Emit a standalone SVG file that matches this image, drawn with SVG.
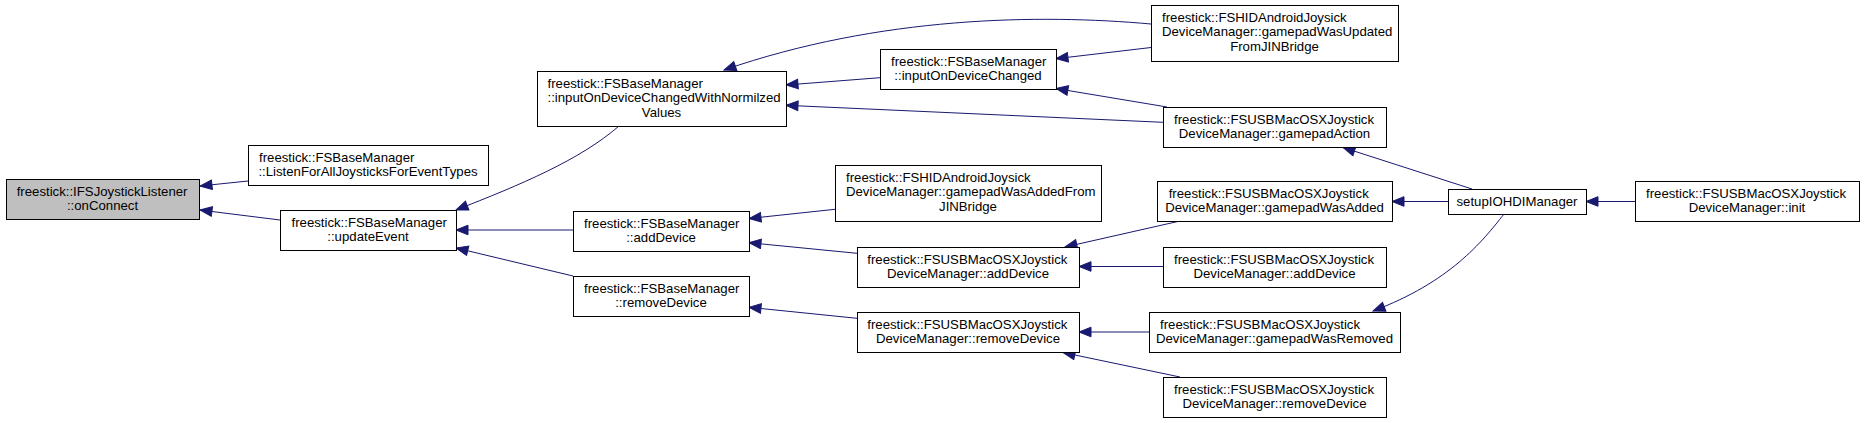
<svg xmlns="http://www.w3.org/2000/svg" width="1864" height="423" viewBox="0 0 1864 423">
<style>
rect.n{fill:#fff;stroke:#000;stroke-width:1}
rect.root{fill:#bfbfbf}
text{font-family:"Liberation Sans",Arial,sans-serif;font-size:13.2px;fill:#000}
text.c{text-anchor:middle}
.e path{fill:none;stroke:#191970;stroke-width:1;marker-end:url(#ah)}
</style>
<defs>
<marker id="ah" markerUnits="userSpaceOnUse" markerWidth="15" markerHeight="13" refX="13" refY="5.5" orient="auto">
<path d="M1,0.7 L13,5.5 L1,10.3 Z" fill="#191970" stroke="#191970" stroke-width="1"/>
</marker>
</defs>
<rect width="1864" height="423" fill="#fff"/>
<g class="e" id="edges">
<path d="M248,181 L200,186"/>
<path d="M280,220 L200,210"/>
<path d="M619,126 C580,160 520,185 456,210"/>
<path d="M573,230 L456,230"/>
<path d="M573,276 L456,248"/>
<path d="M880,77.7 L786,85"/>
<path d="M1151,24 C1040,14 880,16 724,70"/>
<path d="M1151,47.5 L1056,58.7"/>
<path d="M1167,107 L1056,88.5"/>
<path d="M1163,122.3 L786,105.3"/>
<path d="M835,209.3 L749,218.5"/>
<path d="M857,253.3 L749,242.7"/>
<path d="M857,318.3 L749,307.3"/>
<path d="M1180,221 L1065,247"/>
<path d="M1163,266.5 L1079,266.5"/>
<path d="M1149,332 L1079,332"/>
<path d="M1180,377 L1063,352.5"/>
<path d="M1472,189 L1343,147.5"/>
<path d="M1448,201.5 L1392,201.5"/>
<path d="M1504,214 C1482,242 1450,282 1373,311"/>
<path d="M1635,201.5 L1586,201.5"/>
</g>
<g id="n0"><rect class="n root" x="6.5" y="179.5" width="193" height="40"/><text x="16.7" y="195.5">freestick::IFSJoystickListener</text><text class="c" x="102.5" y="209.5">::onConnect</text></g>
<g id="n1"><rect class="n" x="248.5" y="145.5" width="240" height="40"/><text x="259" y="161.5">freestick::FSBaseManager</text><text class="c" x="368" y="175.5">::ListenForAllJoysticksForEventTypes</text></g>
<g id="n2"><rect class="n" x="280.5" y="210.5" width="176" height="40"/><text x="291.5" y="226.5">freestick::FSBaseManager</text><text class="c" x="368" y="240.5">::updateEvent</text></g>
<g id="n3"><rect class="n" x="537.5" y="71.5" width="249" height="55"/><text x="547.5" y="87.5">freestick::FSBaseManager</text><text x="547.5" y="102">::inputOnDeviceChangedWithNormilzed</text><text class="c" x="661.5" y="116.5">Values</text></g>
<g id="n4"><rect class="n" x="573.5" y="211.5" width="176" height="40"/><text x="584" y="227.5">freestick::FSBaseManager</text><text class="c" x="661" y="241.5">::addDevice</text></g>
<g id="n5"><rect class="n" x="573.5" y="276.5" width="176" height="40"/><text x="584" y="292.5">freestick::FSBaseManager</text><text class="c" x="661" y="306.5">::removeDevice</text></g>
<g id="n6"><rect class="n" x="880.5" y="49.5" width="176" height="40"/><text x="891" y="65.5">freestick::FSBaseManager</text><text class="c" x="968" y="79.5">::inputOnDeviceChanged</text></g>
<g id="n7"><rect class="n" x="835.5" y="165.5" width="266" height="56"/><text x="846" y="181.5">freestick::FSHIDAndroidJoysick</text><text x="846" y="196.3">DeviceManager::gamepadWasAddedFrom</text><text class="c" x="968" y="210.5">JINBridge</text></g>
<g id="n8"><rect class="n" x="857.5" y="247.5" width="222" height="40"/><text x="867.3" y="263.5">freestick::FSUSBMacOSXJoystick</text><text class="c" x="968" y="277.5">DeviceManager::addDevice</text></g>
<g id="n9"><rect class="n" x="857.5" y="312.5" width="222" height="40"/><text x="867.3" y="328.5">freestick::FSUSBMacOSXJoystick</text><text class="c" x="968" y="342.5">DeviceManager::removeDevice</text></g>
<g id="n10"><rect class="n" x="1151.5" y="5.5" width="247" height="56"/><text x="1162" y="21.5">freestick::FSHIDAndroidJoysick</text><text x="1162" y="36.3">DeviceManager::gamepadWasUpdated</text><text class="c" x="1274.5" y="50.5">FromJINBridge</text></g>
<g id="n11"><rect class="n" x="1163.5" y="107.5" width="223" height="40"/><text x="1174" y="123.5">freestick::FSUSBMacOSXJoystick</text><text class="c" x="1274.5" y="137.5">DeviceManager::gamepadAction</text></g>
<g id="n12"><rect class="n" x="1157.5" y="181.5" width="235" height="40"/><text x="1168.7" y="197.5">freestick::FSUSBMacOSXJoystick</text><text class="c" x="1274.5" y="211.5">DeviceManager::gamepadWasAdded</text></g>
<g id="n13"><rect class="n" x="1163.5" y="247.5" width="223" height="40"/><text x="1174" y="263.5">freestick::FSUSBMacOSXJoystick</text><text class="c" x="1274.5" y="277.5">DeviceManager::addDevice</text></g>
<g id="n14"><rect class="n" x="1149.5" y="312.5" width="251" height="40"/><text x="1160" y="328.5">freestick::FSUSBMacOSXJoystick</text><text class="c" x="1274.5" y="342.5">DeviceManager::gamepadWasRemoved</text></g>
<g id="n15"><rect class="n" x="1163.5" y="377.5" width="223" height="40"/><text x="1174" y="393.5">freestick::FSUSBMacOSXJoystick</text><text class="c" x="1274.5" y="407.5">DeviceManager::removeDevice</text></g>
<g id="n16"><rect class="n" x="1448.5" y="189.5" width="138" height="25"/><text class="c" x="1517" y="205.5">setupIOHDIManager</text></g>
<g id="n17"><rect class="n" x="1635.5" y="181.5" width="224" height="40"/><text x="1646" y="197.5">freestick::FSUSBMacOSXJoystick</text><text class="c" x="1747" y="211.5">DeviceManager::init</text></g>
</svg>
